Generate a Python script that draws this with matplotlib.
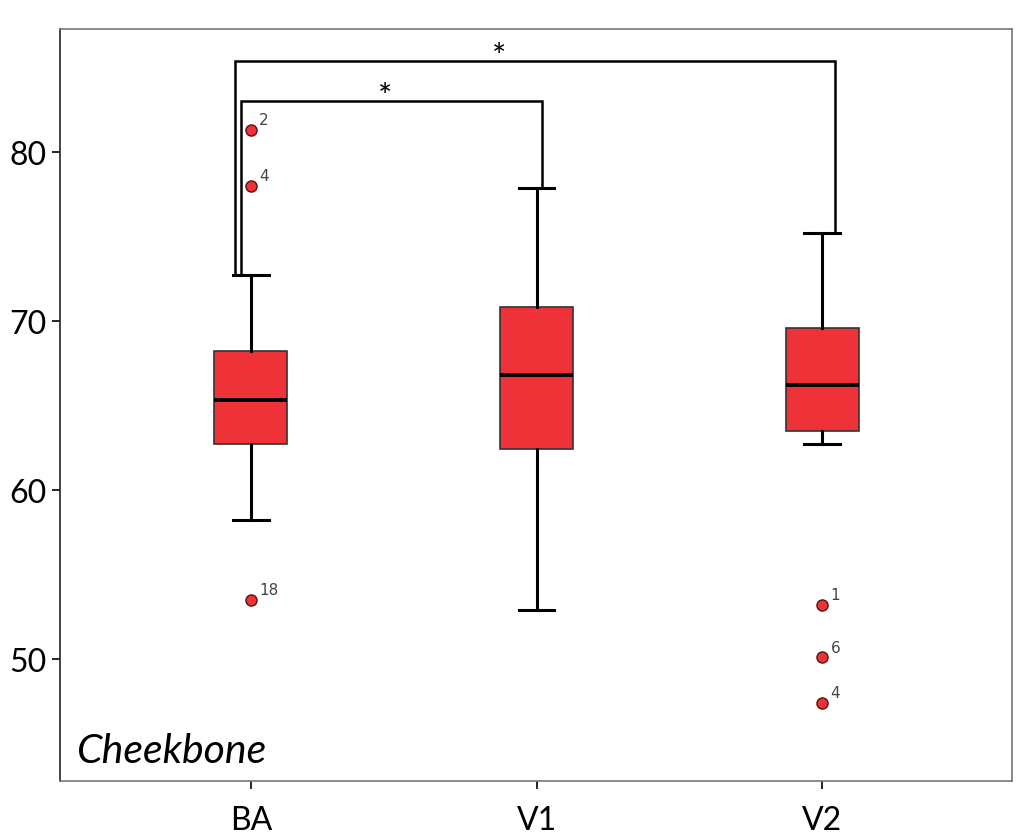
import matplotlib
matplotlib.use('Agg')
from matplotlib import pyplot as plt

plt.rcParams['font.family'] = ['Lato', 'DejaVu Sans']

# values
groups = ['BA', 'V1', 'V2']
q1 = [62.7, 62.4, 63.5]
med = [65.3, 66.8, 66.2]
q3 = [68.2, 70.8, 69.6]
whis_lo = [58.2, 52.9, 62.7]
whis_hi = [72.7, 77.9, 75.2]
fliers = [[81.3, 78.0, 53.5], [], [53.2, 50.1, 47.4]]
flier_ids = [['2', '4', '18'], [], ['1', '6', '4']]

box_red = '#ef3238'

stats = []
for i in range(len(groups)):
    stats.append({'q1': q1[i], 'med': med[i], 'q3': q3[i],
                  'whislo': whis_lo[i], 'whishi': whis_hi[i],
                  'fliers': fliers[i], 'label': groups[i]})

fig = plt.figure(figsize=(10.3, 8.37), dpi=100)
ax = fig.add_axes([60/1030, 1 - 782/837, (1012-60)/1030, (782-30)/837])

pos = [1, 2, 3]
ax.bxp(stats, positions=pos, widths=0.255, patch_artist=True,
       boxprops=dict(facecolor=box_red, edgecolor='#333333', linewidth=1.2),
       medianprops=dict(color='black', linewidth=2.8),
       whiskerprops=dict(color='black', linewidth=2.2),
       capprops=dict(color='black', linewidth=2.2),
       capwidths=0.125,
       flierprops=dict(marker='o', markerfacecolor=box_red, markeredgecolor='#5a1010',
                       markersize=8, markeredgewidth=1))

for i in range(len(groups)):
    for v, lab in zip(fliers[i], flier_ids[i]):
        ax.annotate(lab, (pos[i], v), xytext=(6, 4), textcoords='offset points',
                    fontsize=11, color='#444444', family=['DejaVu Sans'])

# significance brackets
def bracket(x0, x1, y0, y1, ytop, star_x):
    ax.plot([x0, x0, x1, x1], [y0, ytop, ytop, y1], color='black', lw=1.8,
            solid_joinstyle='miter')
    ax.text(star_x, ytop - 0.3, '*', ha='center', va='baseline', fontsize=24)

bracket(0.945, 3.045, whis_hi[0], whis_hi[2], 85.4, 1.87)
bracket(0.967, 2.02, whis_hi[0], whis_hi[1], 83.0, 1.47)

ax.set_xlim(0.332, 3.664)
ax.set_ylim(42.78, 87.28)
ax.set_yticks([50, 60, 70, 80])
ax.set_xticks(pos)
ax.set_xticklabels(groups)
ax.tick_params(axis='both', labelsize=23, direction='out', length=6, width=1.2, colors='black')
ax.tick_params(axis='x', pad=11)

for s in ax.spines.values():
    s.set_color('#777777')
    s.set_linewidth(1.2)
ax.spines['left'].set_color('#222222')

ax.text(0.018, 0.025, 'Cheekbone', transform=ax.transAxes, fontsize=29.5,
        style='italic', ha='left', va='baseline')

plt.savefig('out.png', dpi=100)
